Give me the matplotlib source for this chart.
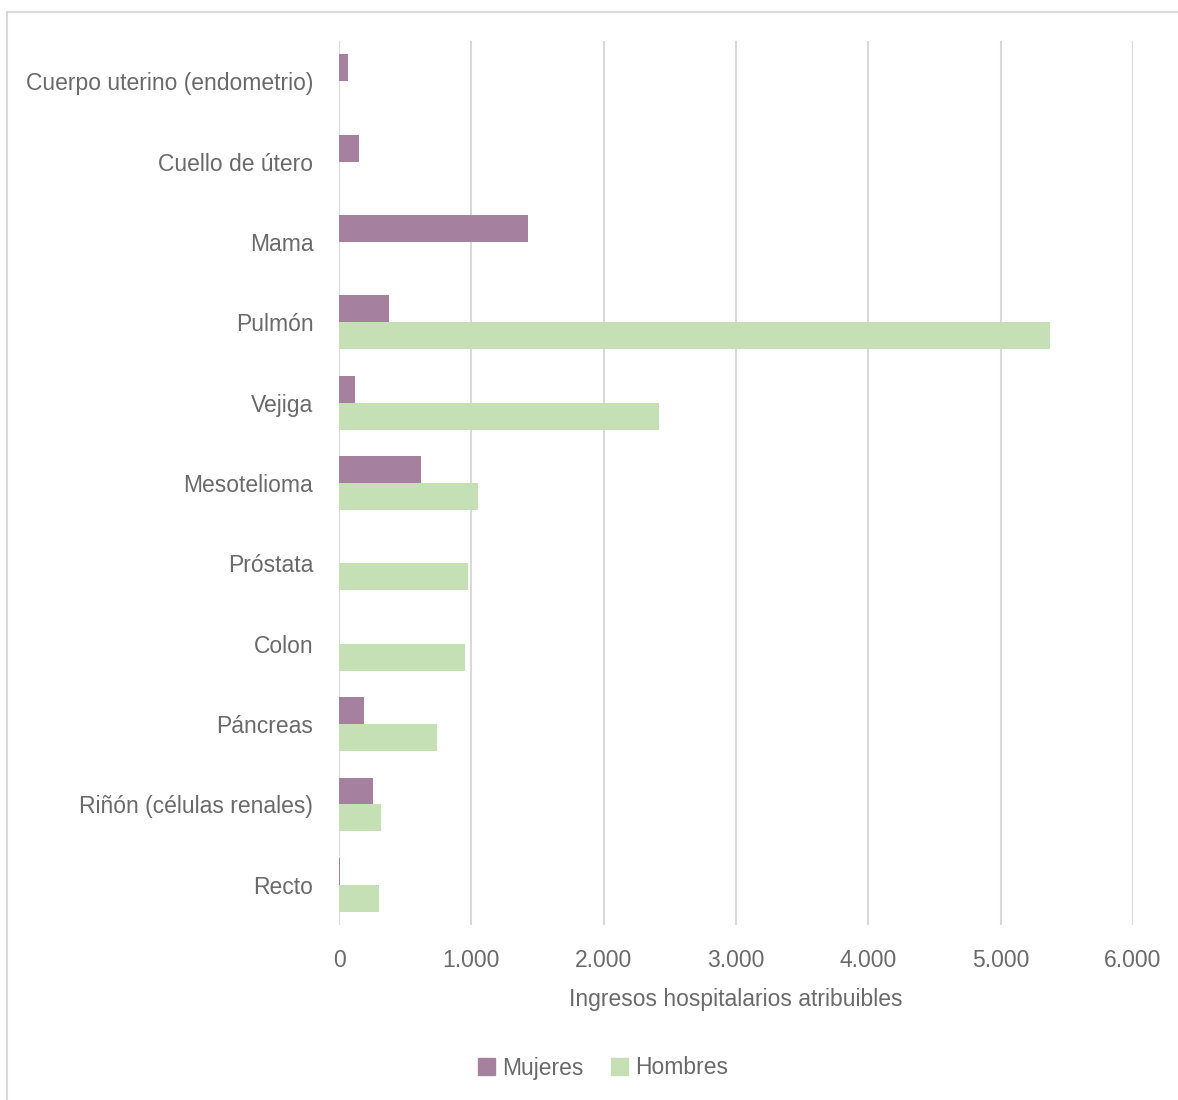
import matplotlib
matplotlib.use("Agg")
import matplotlib.pyplot as plt
from matplotlib.lines import Line2D
import numpy as np

categories = ["Cuerpo uterino (endometrio)", "Cuello de útero", "Mama", "Pulmón", "Vejiga",
              "Mesotelioma", "Próstata", "Colon", "Páncreas", "Riñón (células renales)", "Recto"]
mujeres = [68, 150, 1430, 378, 121, 620, 0, 0, 190, 257, 8]
hombres = [0, 0, 0, 5375, 2420, 1050, 975, 952, 740, 318, 302]
xticks = [0, 1000, 2000, 3000, 4000, 5000, 6000]
xticklabels = ["0", "1.000", "2.000", "3.000", "4.000", "5.000", "6.000"]
series_names = ["Mujeres", "Hombres"]
xlabel = "Ingresos hospitalarios atribuibles"

plt.rcParams['font.family'] = ["Liberation Sans", 'DejaVu Sans']

c_m = "#A6819F"
c_h = "#C5E0B4"
txt = "#6A6A6A"
fs = 16.5

W, H = 1178, 1100
fig = plt.figure(figsize=(W/100, H/100), dpi=100)
ax = fig.add_axes([339/W, 1-925/H, (1133-339)/W, (925-41)/H])

y = np.arange(len(categories))
bh = 0.335
ax.barh(y - bh/2, mujeres, height=bh, color=c_m, label=series_names[0])
ax.barh(y + bh/2, hombres, height=bh, color=c_h, label=series_names[1])

ax.set_ylim(len(categories) - 0.5, -0.5)
ax.set_xlim(0, 6000)
ax.set_xticks(xticks)
ax.set_xticklabels(xticklabels)
ax.set_yticks(y)
ax.set_yticklabels(categories)
ax.tick_params(axis='both', length=0, labelsize=fs, labelcolor=txt)
ax.tick_params(axis='y', pad=18.5)
ax.tick_params(axis='x', pad=17)
ax.grid(axis='x', color="#D9D9D9", linewidth=1.5)
ax.set_axisbelow(True)
for s in ax.spines.values():
    s.set_visible(False)
ax.set_xlabel(xlabel, fontsize=fs, color=txt, labelpad=12)

handles = [plt.Rectangle((0, 0), 1, 1, color=c_m), plt.Rectangle((0, 0), 1, 1, color=c_h)]
fig.legend(handles, series_names, loc='center', bbox_to_anchor=(603/W, 1-1068/H), ncol=2,
           frameon=False, fontsize=fs, labelcolor=txt, handlelength=0.75, handleheight=0.75,
           handletextpad=0.3, columnspacing=1.2)

# outer frame
fig.add_artist(Line2D([7/W, 1.0], [1-12/H, 1-12/H], color="#D9D9D9", lw=1.5, transform=fig.transFigure))
fig.add_artist(Line2D([7/W, 7/W], [1-12/H, 0], color="#D9D9D9", lw=1.5, transform=fig.transFigure))

fig.savefig("out.png", dpi=100, facecolor="white")
